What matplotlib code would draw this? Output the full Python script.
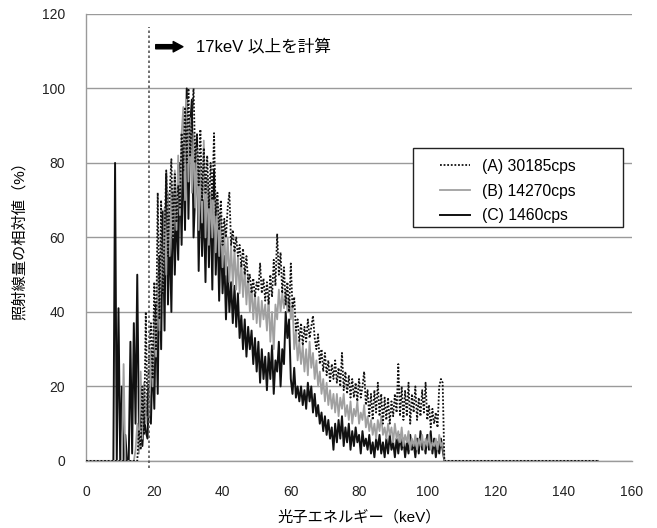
import numpy as np
import matplotlib
matplotlib.use("Agg")
import matplotlib.pyplot as plt
from matplotlib.patches import Rectangle

plt.rcParams["font.family"] = ["Liberation Sans", "Noto Sans CJK JP", "DejaVu Sans"]

# ==============================
# データ (0.5 keV ごと, 8.0〜105.0 keV)
# ==============================
STEP = 0.5
E_START = 8.0
E_END = 105.0
E_MAX = 150.0

# (A) 30185cps  点線
serie_a = [
    0, 0, 0, 0, 0, 0, 0, 0, 0, 0,
    0, 0, 0, 0, 0, 8, 3, 20, 7, 40,
    12, 30, 37, 22, 48, 30, 72, 38, 70, 45,
    62, 78, 55, 72, 81, 60, 77, 64, 74, 68,
    88, 78, 95, 80, 100, 82, 92, 100, 80, 88,
    74, 89, 70, 84, 72, 82, 68, 80, 70, 88,
    66, 72, 62, 70, 58, 65, 60, 68, 72, 58,
    62, 56, 60, 55, 58, 52, 57, 50, 55, 48,
    50, 45, 49, 44, 48, 46, 53, 45, 49, 43,
    48, 42, 50, 44, 54, 47, 61, 50, 56, 45,
    52, 42, 48, 40, 53, 41, 44, 35, 38, 32,
    37, 31, 36, 32, 38, 33, 36, 39, 33, 30,
    34, 26, 30, 24, 29, 23, 27, 21, 26, 22,
    27, 21, 25, 20, 29, 19, 24, 18, 23, 17,
    22, 17, 21, 16, 22, 17, 20, 24, 15, 19,
    12, 18, 11, 19, 13, 21, 12, 18, 10, 17,
    11, 17, 10, 16, 12, 18, 13, 26, 12, 20,
    11, 19, 12, 21, 10, 18, 13, 20, 11, 17,
    12, 19, 13, 21, 11, 15, 9, 14, 10, 13,
    9, 20, 22, 21, 0,
]

# (B) 14270cps  灰色
serie_b = [
    0, 0, 0, 0, 0, 0, 26, 0, 0, 0,
    0, 0, 0, 3, 10, 2, 24, 6, 21, 10,
    18, 12, 30, 20, 40, 28, 50, 35, 60, 45,
    68, 50, 72, 55, 75, 60, 78, 62, 82, 66,
    88, 95, 70, 97, 75, 92, 72, 88, 68, 84,
    62, 80, 64, 86, 60, 76, 58, 72, 60, 70,
    56, 70, 55, 66, 52, 62, 50, 60, 48, 58,
    47, 57, 46, 55, 45, 53, 44, 52, 42, 50,
    40, 47, 38, 45, 37, 44, 36, 43, 38, 42,
    35, 44, 32, 40, 30, 42, 38, 46, 40, 45,
    41, 46, 40, 44, 38, 42, 30, 35, 27, 32,
    26, 31, 24, 30, 23, 32, 25, 29, 22, 27,
    20, 24, 18, 22, 16, 21, 15, 19, 14, 18,
    13, 18, 12, 17, 14, 18, 12, 15, 11, 16,
    10, 14, 12, 16, 10, 13, 11, 15, 9, 12,
    8, 11, 7, 10, 6, 11, 8, 12, 7, 9,
    6, 10, 7, 9, 5, 10, 6, 8, 5, 9,
    4, 7, 5, 8, 3, 6, 4, 7, 3, 6,
    4, 7, 3, 6, 4, 7, 3, 5, 4, 6,
    3, 7, 4, 5, 0,
]

# (C) 1460cps  黒実線
serie_c = [
    0, 80, 0, 41, 0, 20, 0, 7, 0, 0,
    32, 2, 37, 10, 50, 8, 14, 4, 12, 8,
    6, 20, 10, 28, 14, 42, 18, 55, 30, 67,
    35, 77, 42, 62, 40, 72, 50, 68, 54, 80,
    58, 85, 62, 100, 65, 90, 97, 60, 72, 87,
    51, 75, 55, 70, 48, 76, 52, 72, 46, 78,
    50, 65, 43, 62, 45, 55, 38, 52, 40, 48,
    37, 47, 36, 45, 33, 39, 30, 38, 28, 36,
    30, 35, 26, 33, 24, 32, 21, 30, 22, 28,
    19, 29, 22, 31, 18, 27, 24, 32, 20, 30,
    26, 40, 33, 38, 22, 18, 25, 17, 20, 16,
    20, 15, 19, 14, 21, 16, 20, 13, 18, 12,
    15, 10, 13, 8, 12, 7, 11, 6, 9, 3,
    10, 5, 11, 6, 12, 4, 9, 5, 10, 3,
    8, 4, 9, 5, 7, 2, 8, 4, 6, 3,
    7, 2, 5, 1, 6, 3, 7, 2, 5, 1,
    6, 2, 7, 3, 5, 1, 6, 2, 7, 3,
    6, 1, 5, 2, 7, 3, 5, 1, 6, 2,
    8, 3, 5, 2, 7, 3, 8, 2, 6, 1,
    5, 2, 6, 3, 0,
]

etiquetas = ["(A) 30185cps", "(B) 14270cps", "(C) 1460cps"]

# ==============================
# 軸の準備
# ==============================
n_antes = int(round(E_START / STEP))
n_despues = int(round((E_MAX - E_END) / STEP))
energia = np.arange(0, E_MAX + STEP / 2, STEP)


def completar(valores):
    """前後のゼロ領域を付け足す"""
    return np.concatenate([np.zeros(n_antes), np.array(valores, float), np.zeros(n_despues)])


ya = completar(serie_a)
yb = completar(serie_b)
yc = completar(serie_c)

# ==============================
# 描画
# ==============================
fig = plt.figure(figsize=(6.57, 5.28), dpi=100)
ax = fig.add_axes([0.131, 0.127, 0.831, 0.8466])

gris_eje = "#9a9a9a"

ax.set_xlim(0, 160)
ax.set_ylim(0, 120)
ax.set_xticks(np.arange(0, 161, 20))
ax.set_yticks(np.arange(0, 121, 20))
ax.grid(axis="y", color=gris_eje, lw=1.0)
ax.set_axisbelow(True)
for lado in ["top", "right"]:
    ax.spines[lado].set_visible(False)
for lado in ["left", "bottom"]:
    ax.spines[lado].set_color(gris_eje)
    ax.spines[lado].set_linewidth(1.0)
ax.tick_params(length=0, labelsize=10, colors="#222222")
ax.tick_params(axis="x", pad=17)
ax.tick_params(axis="y", pad=15)

l_c, = ax.plot(energia, yc, color="#111111", lw=1.4, label=etiquetas[2], zorder=3)
l_b, = ax.plot(energia, yb, color="#a0a0a0", lw=1.3, label=etiquetas[1], zorder=4)
l_a, = ax.plot(energia, ya, color="#111111", lw=1.3, ls=(0, (1, 1)), label=etiquetas[0], zorder=5)

# 17keV の境界線
ax.plot([18.5, 18.5], [-1.8, 116.5], color="#555555", lw=1.2, ls=(0, (1.5, 1.5)),
        clip_on=False, zorder=6)
ax.annotate("", xy=(29.2, 111.2), xytext=(19.6, 111.2),
            arrowprops=dict(arrowstyle="simple,head_width=0.75,head_length=0.7,tail_width=0.3",
                            color="black", mutation_scale=10))
ax.text(32.2, 111.2, "17keV 以上を計算", fontsize=12, va="center", ha="left")

ax.set_xlabel("光子エネルギー（keV）", fontsize=11, labelpad=8)
ax.set_ylabel("照射線量の相対値（%）", fontsize=11, labelpad=11)

# 凡例 (枠は別に描く)
ax.add_patch(Rectangle((0.599, 0.5235), 0.3845, 0.1767, transform=ax.transAxes,
                       facecolor="white", edgecolor="#222222", lw=1.0, zorder=8))
leg = ax.legend(handles=[l_a, l_b, l_c], loc="upper left", bbox_to_anchor=(0.6484, 0.6757),
                fontsize=11.3, frameon=False, handlelength=1.92, handletextpad=0.77,
                labelspacing=0.62, borderpad=0, borderaxespad=0)
leg.set_zorder(9)

fig.savefig("out.png", dpi=100)
